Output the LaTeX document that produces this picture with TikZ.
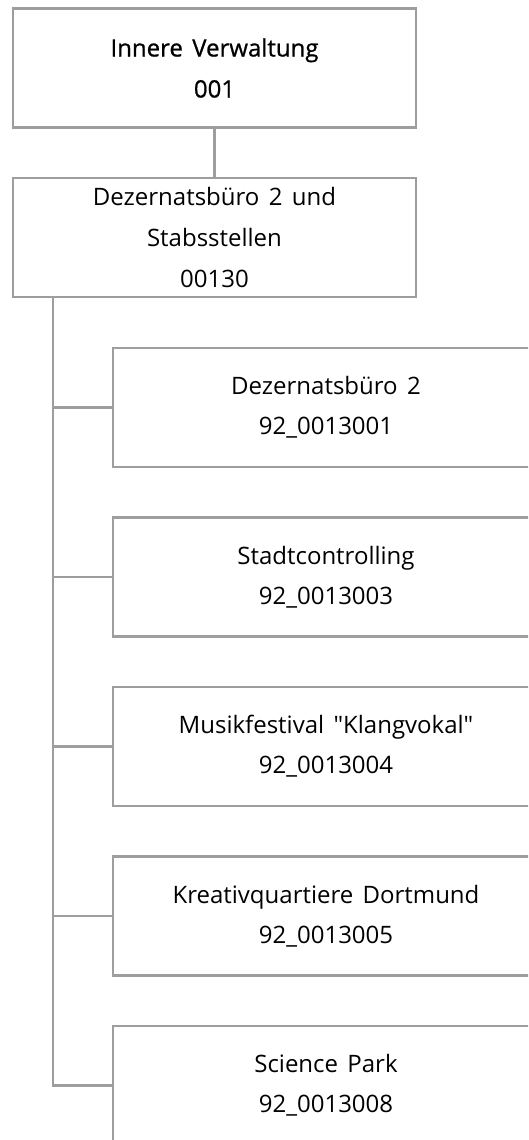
\documentclass[tikz,border=0pt]{standalone}
\usepackage{fontspec}
\setmainfont{Open Sans}[Ligatures=TeXOff,WordSpace=1.5]
\newfontfamily\heavyfont{Open Sans}[Ligatures=TeXOff,WordSpace=1.5,FakeBold=0.8]
\usepackage{tikz}
\usetikzlibrary{positioning}

\begin{document}
\begin{tikzpicture}[x=1pt,y=-1pt,
  orgbox/.style={draw=black!38,line width=2.6pt,minimum width=403pt,minimum height=119pt,align=center,inner sep=0pt,font=\fontsize{24}{41}\selectfont},
  unitbox/.style={orgbox,minimum width=426pt,font=\fontsize{24}{40}\selectfont},
  orgline/.style={draw=black!38,line width=2.6pt}]
\useasboundingbox (0,0) rectangle (528,1140);
\clip (0,0) rectangle (528,1140);
\node[orgbox,font=\fontsize{24}{41}\heavyfont] (iv) at (214.5,68) {Innere Verwaltung\\001};
\node[orgbox] (dz) at (214.5,237.5) {Dezernatsbüro 2 und\\Stabsstellen\\00130};
\node[unitbox] (c1) at (326,407.5) {Dezernatsbüro 2\\92\_0013001};
\node[unitbox] (c2) at (326,577) {Stadtcontrolling\\92\_0013003};
\node[unitbox] (c3) at (326,746.5) {Musikfestival "Klangvokal"\\92\_0013004};
\node[unitbox] (c4) at (326,916) {Kreativquartiere Dortmund\\92\_0013005};
\node[unitbox] (c5) at (326,1085.5) {Science Park\\ 92\_0013008};
\coordinate (tr) at (53,0);
\draw[orgline] (iv.south) -- (dz.north);
\draw[orgline] (dz.south -| tr) -- (c5.west -| tr) -- (c5.west);
\foreach \i in {1,...,4}
  \draw[orgline] (c\i.west -| tr) -- (c\i.west);
\end{tikzpicture}
\end{document}
